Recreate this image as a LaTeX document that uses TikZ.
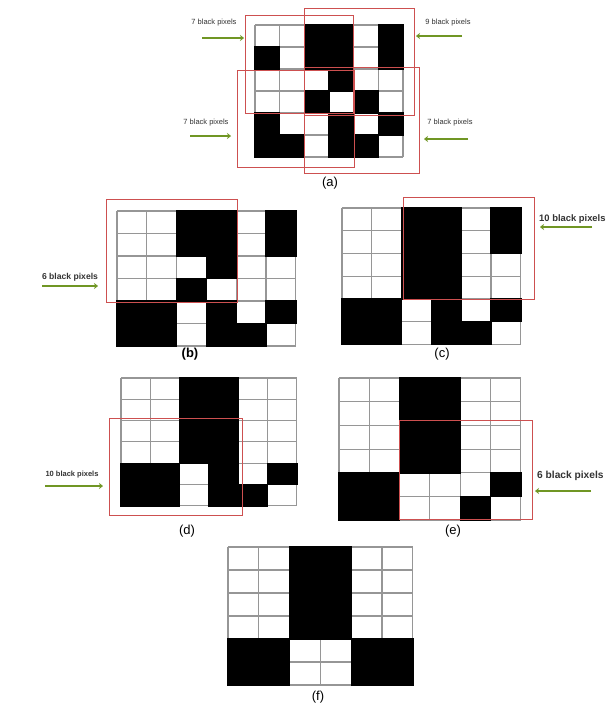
\documentclass[tikz,border=0pt]{standalone}
\usepackage{fontspec}
\setmainfont{Liberation Sans}
\usetikzlibrary{arrows.meta}
\definecolor{redbox}{RGB}{205,80,80}
\definecolor{arrowgreen}{RGB}{112,150,36}
\definecolor{gridgray}{RGB}{150,150,150}
\tikzset{
  gridline/.style={draw=gridgray,line width=1.1pt},
  pixel/.style={fill=black,draw=black,line width=0.6pt},
  redwin/.style={draw=redbox,line width=1pt},
  greenarrow/.style={draw=arrowgreen,line width=2.2pt,-{Stealth[length=4pt,width=6pt]}},
  smalllab/.style={font=\fontsize{7.5}{8}\selectfont,text=black!80,inner sep=0pt},
  biglab/.style={font=\fontsize{7.5}{8}\selectfont\bfseries,text=black!80,inner sep=0pt},
  panellab/.style={font=\fontsize{13}{14}\selectfont,inner sep=0pt}
}
\newcommand\pixgrid[5]{%
  \foreach \r/\c in {#5}{\fill[pixel] ({#1+(\c-1)*#3},{#2+(\r-1)*#4}) rectangle ++(#3,#4);}
  \foreach \i in {0,...,6}{%
    \draw[gridline] ({#1+\i*#3},#2) -- ({#1+\i*#3},{#2+6*#4});
    \draw[gridline] (#1,{#2+\i*#4}) -- ({#1+6*#3},{#2+\i*#4});
  }
  \foreach \r/\c in {#5}{\fill[black] ({#1+(\c-1)*#3-0.7},{#2+(\r-1)*#4-0.7}) rectangle ++({#3+1.4},{#4+1.4});}
}
\begin{document}
\begin{tikzpicture}[x=1pt,y=-1pt]
\useasboundingbox[fill=white] (0,0) rectangle (610,707);
% ---------- (a)
\pixgrid{255}{25}{24.67}{22}{1/3,1/4,1/6,2/1,2/3,2/4,2/6,3/4,4/3,4/5,5/1,5/4,5/6,6/1,6/2,6/4,6/5}
\draw[redwin] (245,15) rectangle (353,113);
\draw[redwin] (304,8) rectangle (414,115);
\draw[redwin] (237,70) rectangle (354,167);
\draw[redwin] (304,67) rectangle (419,173);
\node[smalllab] (la1) at (214,23) {7 black pixels};
\node[smalllab] (la2) at (448,23) {9 black pixels};
\node[smalllab] (la3) at (206,123) {7 black pixels};
\node[smalllab] (la4) at (450,123) {7 black pixels};
\coordinate (a1s) at (202,38); \coordinate (a1e) at (244,38);
\coordinate (a2s) at (462,36); \coordinate (a2e) at (416,36);
\coordinate (a3s) at (190,136); \coordinate (a3e) at (231,136);
\coordinate (a4s) at (468,139); \coordinate (a4e) at (424,139);
\draw[greenarrow] (a1s) -- (a1e);
\draw[greenarrow] (a2s) -- (a2e);
\draw[greenarrow] (a3s) -- (a3e);
\draw[greenarrow] (a4s) -- (a4e);
\node[panellab] (pa) at (330,183) {(a)};
% ---------- (b)
\pixgrid{117}{211}{29.8}{22.5}{1/3,1/4,1/6,2/3,2/4,2/6,3/4,4/3,5/1,5/2,5/4,5/6,6/1,6/2,6/4,6/5}
\draw[redwin] (106,199) rectangle (237,302);
\node[biglab,font=\fontsize{8.6}{9}\selectfont\bfseries] (lb) at (70,277) {6 black pixels};
\coordinate (bs) at (42,286); \coordinate (be) at (98,286);
\draw[greenarrow] (bs) -- (be);
\node[panellab] (pb) at (190,354) {\bfseries (b)};
% ---------- (c)
\pixgrid{342}{208}{29.8}{22.7}{1/3,1/4,1/6,2/3,2/4,2/6,3/3,3/4,4/3,4/4,5/1,5/2,5/4,5/6,6/1,6/2,6/4,6/5}
\draw[redwin] (403,197) rectangle (534,299);
\node[biglab,anchor=west,font=\fontsize{9.4}{10}\selectfont\bfseries] (lc) at (539,219) {10 black pixels};
\coordinate (cs) at (592,227); \coordinate (ce) at (540,227);
\draw[greenarrow] (cs) -- (ce);
\node[panellab] (pc) at (442,354) {(c)};
% ---------- (d)
\pixgrid{121}{378}{29.3}{21.3}{1/3,1/4,2/3,2/4,3/3,3/4,4/3,4/4,5/1,5/2,5/4,5/6,6/1,6/2,6/4,6/5}
\draw[redwin] (109,418) rectangle (242,515);
\node[biglab] (ld) at (72,475) {10 black pixels};
\coordinate (ds) at (45,486); \coordinate (de) at (103,486);
\draw[greenarrow] (ds) -- (de);
\node[panellab] (pd) at (187,531) {(d)};
% ---------- (e)
\pixgrid{339}{378}{30.3}{23.7}{1/3,1/4,2/3,2/4,3/3,3/4,4/3,4/4,5/1,5/2,5/6,6/1,6/2,6/5}
\draw[redwin] (399,420) rectangle (532,519);
\node[biglab,anchor=west,font=\fontsize{10.2}{11}\selectfont\bfseries] (le) at (537,476) {6 black pixels};
\coordinate (es) at (591,491); \coordinate (ee) at (535,491);
\draw[greenarrow] (es) -- (ee);
\node[panellab] (pe) at (453,531) {(e)};
% ---------- (f)
\pixgrid{228}{547}{30.8}{23}{1/3,1/4,2/3,2/4,3/3,3/4,4/3,4/4,5/1,5/2,5/5,5/6,6/1,6/2,6/5,6/6}
\node[panellab] (pf) at (318,697) {(f)};
\end{tikzpicture}
\end{document}
